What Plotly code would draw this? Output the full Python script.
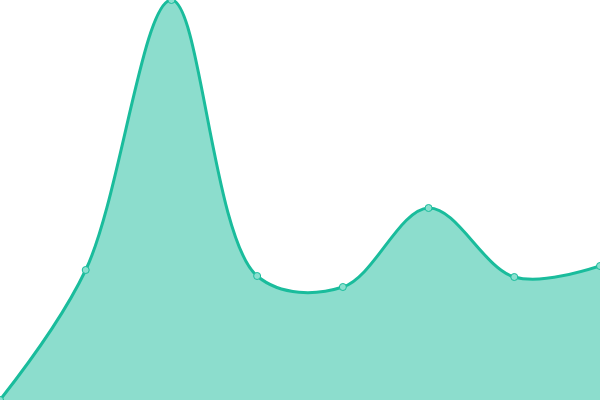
import plotly.graph_objects as go

categories = [0, 1, 2, 3, 4, 5, 6, 7]
values = [0, 130, 400, 124, 113, 192, 123, 134]

line_color = "#1abc9c"
fill_color = "rgba(26,188,156,0.5)"

fig = go.Figure()
fig.add_trace(go.Scatter(
    x=categories, y=values,
    mode="lines+markers",
    line=dict(color=line_color, width=3, shape="spline", smoothing=1),
    fill="tozeroy", fillcolor=fill_color,
    marker=dict(size=7, color="#8ae0cf", line=dict(color=line_color, width=1)),
    hoverinfo="skip",
))
fig.update_layout(
    width=600, height=400,
    margin=dict(l=0, r=0, t=0, b=0),
    paper_bgcolor="white", plot_bgcolor="white",
    showlegend=False,
    xaxis=dict(visible=False, range=[0, 7], fixedrange=True),
    yaxis=dict(visible=False, range=[0, 400], fixedrange=True),
)
fig.write_html(
    "out.html",
    config={"displayModeBar": False},
    post_script="document.body.style.margin='0';document.body.style.overflow='hidden';",
)
